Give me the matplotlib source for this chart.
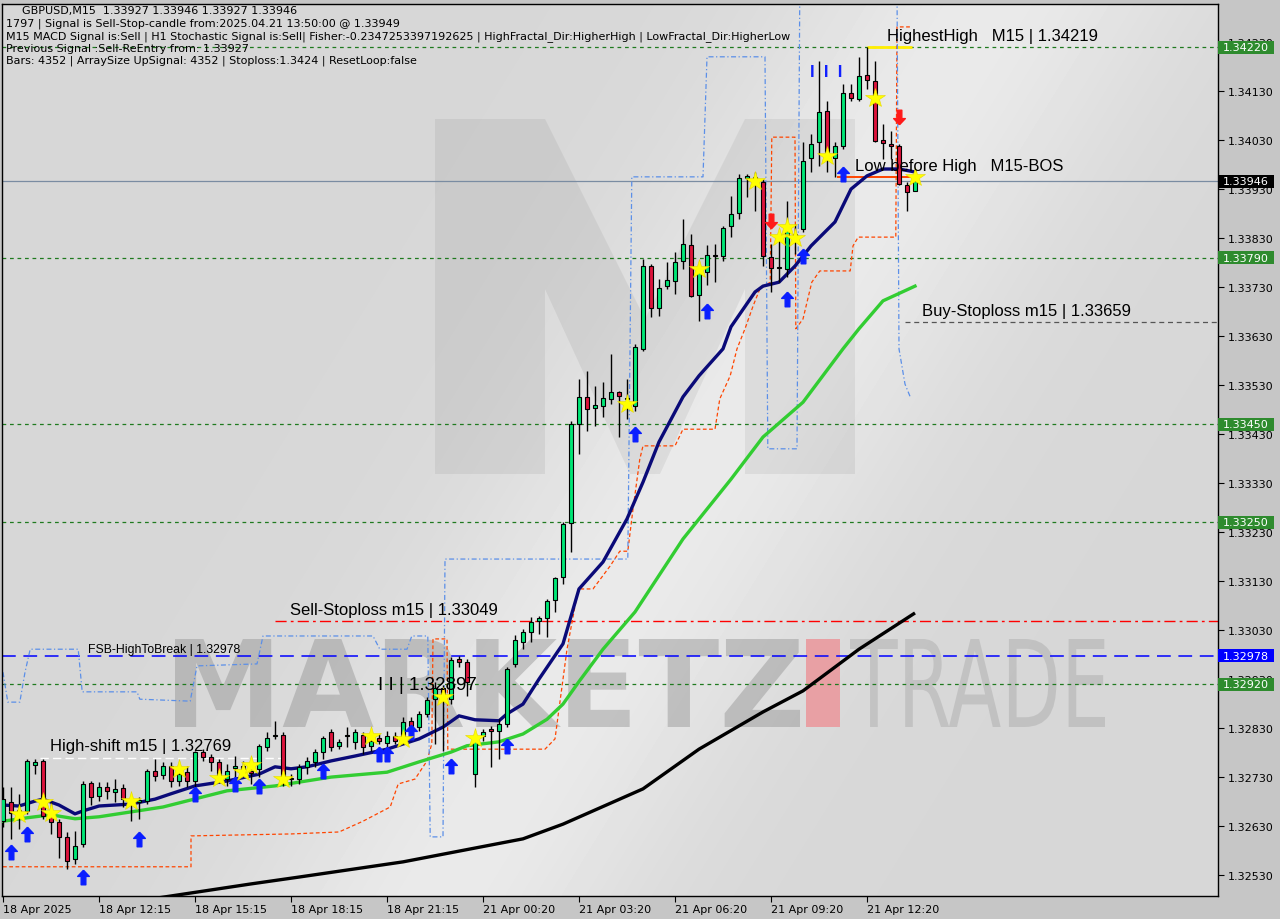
import numpy as np
import matplotlib
matplotlib.use("Agg")
import matplotlib.pyplot as plt
from matplotlib.path import Path
from matplotlib.patches import PathPatch, Rectangle, Polygon
from matplotlib.textpath import TextPath
from matplotlib.font_manager import FontProperties
from matplotlib.transforms import Affine2D, blended_transform_factory

# ---------------- data ----------------
opens = [1.32640, 1.32679, 1.32657, 1.32661, 1.32755, 1.32763, 1.32655, 1.32638, 1.32608, 1.32563,
         1.32594, 1.32718, 1.32691, 1.32710, 1.32700, 1.32708, 1.32685, 1.32679, 1.32681, 1.32742,
         1.32734, 1.32753, 1.32722, 1.32740, 1.32722, 1.32781, 1.32771, 1.32761, 1.32726, 1.32749,
         1.32753, 1.32742, 1.32747, 1.32791, 1.32814, 1.32816, 1.32726, 1.32726, 1.32751, 1.32761,
         1.32781, 1.32822, 1.32794, 1.32814, 1.32802, 1.32816, 1.32794, 1.32810, 1.32800, 1.32814,
         1.32808, 1.32845, 1.32832, 1.32859, 1.32889, 1.32912, 1.32889, 1.32971, 1.32965, 1.32736,
         1.32814, 1.32828, 1.32824, 1.32838, 1.32961, 1.33006, 1.33026, 1.33049, 1.33055, 1.33091,
         1.33138, 1.33249, 1.33451, 1.33506, 1.33483, 1.33487, 1.33502, 1.33516, 1.33502, 1.33487,
         1.33604, 1.33773, 1.33687, 1.33732, 1.33743, 1.33783, 1.33816, 1.33714, 1.33761, 1.33795,
         1.33793, 1.33855, 1.33881, 1.33953, 1.33955, 1.33945, 1.33791, 1.33769, 1.33767, 1.33828,
         1.33849, 1.33993, 1.34026, 1.34089, 1.33993, 1.34018, 1.34126, 1.34114, 1.34163, 1.34151,
         1.34030, 1.34022, 1.34018, 1.33938, 1.33927]
highs = [1.32710, 1.32710, 1.32696, 1.32767, 1.32767, 1.32767, 1.32679, 1.32645, 1.32618, 1.32620,
         1.32722, 1.32722, 1.32720, 1.32720, 1.32726, 1.32716, 1.32691, 1.32689, 1.32747, 1.32767,
         1.32761, 1.32761, 1.32742, 1.32753, 1.32783, 1.32787, 1.32777, 1.32767, 1.32757, 1.32773,
         1.32763, 1.32757, 1.32798, 1.32822, 1.32845, 1.32822, 1.32736, 1.32757, 1.32771, 1.32787,
         1.32814, 1.32828, 1.32808, 1.32832, 1.32828, 1.32822, 1.32808, 1.32818, 1.32824, 1.32822,
         1.32853, 1.32853, 1.32865, 1.32893, 1.32924, 1.32918, 1.32975, 1.32977, 1.32971, 1.32818,
         1.32828, 1.32834, 1.32849, 1.32955, 1.33020, 1.33032, 1.33057, 1.33059, 1.33093, 1.33138,
         1.33251, 1.33457, 1.33542, 1.33559, 1.33528, 1.33536, 1.33594, 1.33518, 1.33542, 1.33614,
         1.33787, 1.33777, 1.33747, 1.33781, 1.33802, 1.33869, 1.33838, 1.33777, 1.33816, 1.33818,
         1.33855, 1.33916, 1.33961, 1.33961, 1.33965, 1.33951, 1.33818, 1.33842, 1.33906, 1.33859,
         1.34026, 1.34042, 1.34191, 1.34110, 1.34026, 1.34144, 1.34144, 1.34200, 1.34219, 1.34191,
         1.34063, 1.34049, 1.34022, 1.33945, 1.33946]
lows = [1.32628, 1.32604, 1.32624, 1.32655, 1.32736, 1.32645, 1.32614, 1.32565, 1.32543, 1.32553,
        1.32587, 1.32673, 1.32681, 1.32685, 1.32679, 1.32669, 1.32640, 1.32645, 1.32675, 1.32722,
        1.32726, 1.32710, 1.32712, 1.32710, 1.32685, 1.32763, 1.32742, 1.32722, 1.32712, 1.32730,
        1.32732, 1.32716, 1.32730, 1.32783, 1.32808, 1.32712, 1.32712, 1.32716, 1.32736, 1.32751,
        1.32767, 1.32783, 1.32787, 1.32791, 1.32787, 1.32777, 1.32783, 1.32798, 1.32791, 1.32798,
        1.32798, 1.32828, 1.32824, 1.32853, 1.32798, 1.32783, 1.32879, 1.32955, 1.32896, 1.32710,
        1.32804, 1.32751, 1.32767, 1.32832, 1.32955, 1.32991, 1.33006, 1.33022, 1.33016, 1.33067,
        1.33124, 1.33189, 1.33389, 1.33436, 1.33447, 1.33465, 1.33491, 1.33424, 1.33461, 1.33477,
        1.33600, 1.33669, 1.33671, 1.33726, 1.33716, 1.33767, 1.33710, 1.33661, 1.33734, 1.33740,
        1.33783, 1.33832, 1.33869, 1.33914, 1.33885, 1.33773, 1.33720, 1.33740, 1.33751, 1.33798,
        1.33842, 1.33965, 1.33977, 1.33965, 1.33955, 1.34012, 1.34110, 1.34110, 1.34134, 1.34026,
        1.33991, 1.33991, 1.33938, 1.33885, 1.33927]
closes = [1.32685, 1.32657, 1.32663, 1.32763, 1.32761, 1.32651, 1.32638, 1.32608, 1.32559, 1.32589,
          1.32716, 1.32689, 1.32710, 1.32702, 1.32706, 1.32685, 1.32683, 1.32683, 1.32742, 1.32732,
          1.32753, 1.32722, 1.32736, 1.32722, 1.32781, 1.32771, 1.32761, 1.32732, 1.32742, 1.32753,
          1.32742, 1.32738, 1.32794, 1.32810, 1.32816, 1.32726, 1.32728, 1.32751, 1.32763, 1.32781,
          1.32810, 1.32791, 1.32802, 1.32816, 1.32822, 1.32791, 1.32804, 1.32804, 1.32814, 1.32804,
          1.32842, 1.32834, 1.32859, 1.32887, 1.32912, 1.32889, 1.32969, 1.32965, 1.32924, 1.32808,
          1.32822, 1.32824, 1.32838, 1.32951, 1.33010, 1.33026, 1.33047, 1.33055, 1.33089, 1.33136,
          1.33247, 1.33451, 1.33506, 1.33481, 1.33489, 1.33504, 1.33516, 1.33508, 1.33504, 1.33608,
          1.33773, 1.33687, 1.33728, 1.33745, 1.33781, 1.33818, 1.33712, 1.33761, 1.33795, 1.33793,
          1.33851, 1.33879, 1.33953, 1.33957, 1.33951, 1.33793, 1.33769, 1.33770, 1.33849, 1.33838,
          1.33987, 1.34022, 1.34087, 1.34006, 1.34018, 1.34126, 1.34116, 1.34161, 1.34153, 1.34028,
          1.34024, 1.34018, 1.33940, 1.33924, 1.33946]

# moving averages (bar index, price)
navy_x = [0, 2, 4, 5, 7, 9, 10, 12, 16, 19, 21, 24, 28, 32, 34, 36, 38, 41, 44, 48, 52, 55, 57, 59,
          62, 63, 65, 67, 70, 72, 75, 78, 80, 82, 85, 87, 90, 91, 94, 95, 97, 99, 101, 104, 106, 108,
          110, 112, 114]
navy_y = [1.32673, 1.32671, 1.32681, 1.32685, 1.32673, 1.32655, 1.32661, 1.32671, 1.32675, 1.32685,
          1.32696, 1.32712, 1.32722, 1.32736, 1.32751, 1.32747, 1.32751, 1.32763, 1.32773, 1.32787,
          1.32808, 1.32832, 1.32855, 1.32847, 1.32845, 1.32859, 1.32879, 1.32930, 1.33002, 1.33114,
          1.33169, 1.33257, 1.33332, 1.33414, 1.33506, 1.33549, 1.33604, 1.33649, 1.33720, 1.33732,
          1.33740, 1.33773, 1.33814, 1.33863, 1.33930, 1.33957, 1.33971, 1.33971, 1.33965]
green_x = [0, 3, 6, 9, 12, 16, 20, 28, 34, 41, 48, 52, 56, 58, 62, 65, 68, 70, 72, 75, 79, 85, 91,
           95, 100, 105, 107, 110, 114]
green_y = [1.32640, 1.32647, 1.32653, 1.32645, 1.32649, 1.32659, 1.32669, 1.32702, 1.32712, 1.32730,
           1.32740, 1.32761, 1.32781, 1.32794, 1.32802, 1.32818, 1.32848, 1.32879, 1.32925, 1.32991,
           1.33067, 1.33216, 1.33338, 1.33424, 1.33495, 1.33604, 1.33645, 1.33702, 1.33732]
black_x = [18, 31, 37, 50, 65, 70, 80, 87, 95, 100, 107, 114]
black_y = [1.32480, 1.32512, 1.32526, 1.32557, 1.32604, 1.32634, 1.32706, 1.32787, 1.32863, 1.32906,
           1.32991, 1.33065]

# trailing stop lines (bar index, price)
orange_x = [0, 23.5, 23.5, 36, 42, 45, 48.4, 49.4, 51.5, 53, 53.6, 53.75, 55.5, 55.6, 67.75, 69,
            70.5, 71.9, 73.75, 75.9, 77.1, 78.1, 78.75, 79.6, 80, 84, 85, 89, 89.6, 90.9, 91.75,
            92.75, 93.75, 94.6, 95.9, 96.1, 99, 99.1, 100, 101.1, 102.1, 105.9, 106.25, 106.9,
            111.6, 111.75, 113.6]
orange_y = [1.32547, 1.32547, 1.32610, 1.32614, 1.32618, 1.32640, 1.32669, 1.32716, 1.32726, 1.32763,
            1.32798, 1.33012, 1.33012, 1.32787, 1.32787, 1.32808, 1.32991, 1.33114, 1.33114, 1.33161,
            1.33191, 1.33191, 1.33277, 1.33379, 1.33406, 1.33406, 1.33440, 1.33440, 1.33502, 1.33549,
            1.33604, 1.33645, 1.33691, 1.33726, 1.33740, 1.34036, 1.34036, 1.33645, 1.33665, 1.33740,
            1.33763, 1.33763, 1.33814, 1.33832, 1.33832, 1.34261, 1.34261]
blue_x = [0, 0.6, 2.1, 2.75, 3.4, 9.4, 9.9, 16.75, 17.1, 23.4, 24.25, 31.75, 32.5, 46.25, 47.1, 50.5,
          51.1, 53.1, 53.4, 55, 55.25, 78.1, 78.6, 87.5, 88, 95.25, 95.6, 99.25, 99.6, 111.75, 112,
          112.75, 113.4]
blue_y = [1.32944, 1.32883, 1.32883, 1.32944, 1.32991, 1.32991, 1.32904, 1.32904, 1.32889, 1.32885,
          1.32957, 1.32961, 1.33018, 1.33018, 1.32991, 1.32991, 1.33018, 1.33018, 1.32608, 1.32608,
          1.33175, 1.33175, 1.33955, 1.33955, 1.34200, 1.34200, 1.33400, 1.33400, 1.34340, 1.34340,
          1.33604, 1.33532, 1.33506]

# signal markers (bar index, price)
star_x = [2, 5, 6, 16, 22, 27, 30, 31, 35, 46, 50, 55, 59, 78, 87, 94, 97, 98, 99, 103, 109, 114]
star_y = [1.32655, 1.32679, 1.32657, 1.32681, 1.32747, 1.32728, 1.32740, 1.32755, 1.32726, 1.32814,
          1.32808, 1.32893, 1.32810, 1.33491, 1.33767, 1.33947, 1.33832, 1.33853, 1.33830, 1.33998,
          1.34116, 1.33955]
up_x = [1, 3, 10, 17, 24, 29, 32, 40, 47, 48, 51, 56, 63, 79, 88, 98, 100, 105]
up_y = [1.32577, 1.32614, 1.32526, 1.32604, 1.32696, 1.32716, 1.32712, 1.32742, 1.32777, 1.32777,
        1.32822, 1.32753, 1.32794, 1.33430, 1.33681, 1.33706, 1.33793, 1.33961]
down_x = [96, 112]
down_y = [1.33865, 1.34077]

# levels
green_levels = [1.34220, 1.33790, 1.33450, 1.33250, 1.32920]
fsb_level = 1.32978
sell_sl = 1.33049
buy_sl = 1.33659
high_shift = 1.32769
highest_high = 1.34219
low_before_high = 1.33955
last_price = 1.33946

time_ticks = [0, 12, 24, 36, 48, 60, 72, 84, 96, 108]
time_labels = ["18 Apr 2025", "18 Apr 12:15", "18 Apr 15:15", "18 Apr 18:15", "18 Apr 21:15",
               "21 Apr 00:20", "21 Apr 03:20", "21 Apr 06:20", "21 Apr 09:20", "21 Apr 12:20"]
price_ticks = [1.32530, 1.32630, 1.32730, 1.32830, 1.32930, 1.33030, 1.33130, 1.33230, 1.33330,
               1.33430, 1.33530, 1.33630, 1.33730, 1.33830, 1.33930, 1.34030, 1.34130, 1.34230]

info_lines = [
    "GBPUSD,M15  1.33927 1.33946 1.33927 1.33946",
    "1797 | Signal is Sell-Stop-candle from:2025.04.21 13:50:00 @ 1.33949",
    "M15 MACD Signal is:Sell | H1 Stochastic Signal is:Sell| Fisher:-0.2347253397192625 | "
    "HighFractal_Dir:HigherHigh | LowFractal_Dir:HigherLow",
    "Previous Signal :Sell-ReEntry from: 1.33927",
    "Bars: 4352 | ArraySize UpSignal: 4352 | Stoploss:1.3424 | ResetLoop:false",
]

# ---------------- figure ----------------
W, H = 1280, 920
fig = plt.figure(figsize=(12.8, 9.2), dpi=100, facecolor="#c6c6c6")
ax = fig.add_axes([2 / W, (H - 897) / H, 1216 / W, 892 / H])
ax.set_facecolor("#d8d8d8")
xmin, xmax = -0.125, 151.875
ymin, ymax = 1.3248735, 1.3430776
pix = Affine2D().scale(1, -1).translate(0, H)   # pixel (top-left origin) -> display

# background light swoosh
gx = np.linspace(2, 1218, 300)
gy = np.linspace(5, 897, 220)
GX, GY = np.meshgrid(gx, gy)
p0, p1 = np.array([420.0, 930.0]), np.array([1010.0, -30.0])
dvec = (p1 - p0) / np.linalg.norm(p1 - p0)
dist = np.abs((GX - p0[0]) * dvec[1] - (GY - p0[1]) * dvec[0])
shade = 215 + 19 * np.exp(-(dist / 170.0) ** 2)
ax.imshow(shade, cmap="gray", vmin=0, vmax=255, extent=(0, 1, 0, 1), origin="upper",
          transform=ax.transAxes, aspect="auto", zorder=0, interpolation="bilinear")

# M logo watermark
m_pts = [(435, 475), (435, 120), (545, 120), (645, 320), (745, 120), (855, 120), (855, 475),
         (745, 475), (745, 290), (660, 475), (630, 475), (545, 290), (545, 475)]
ax.add_patch(Polygon(m_pts, closed=True, transform=pix, facecolor="#000000", alpha=0.06,
                     edgecolor="none", zorder=0.5))


def word_patch(text, box, color, weight, alpha):
    x0, y0, x1, y1 = box
    tp = TextPath((0, 0), text, size=100, prop=FontProperties(family="DejaVu Sans", weight=weight))
    ext = tp.get_extents()
    sx = (x1 - x0) / ext.width
    sy = (y1 - y0) / ext.height
    tr = Affine2D().translate(-ext.x0, -ext.y0).scale(sx, sy).translate(x0, H - y1)
    ax.add_patch(PathPatch(tp, transform=tr, facecolor=color, edgecolor="none", alpha=alpha,
                           zorder=0.6))


word_patch("MARKETZ", (175, 640, 800, 728), "#8c8c8c", "bold", 0.42)
ax.add_patch(Rectangle((806, 640), 34, 88, transform=pix, facecolor="#e8a0a4", edgecolor="none",
                       zorder=0.6))
word_patch("TRADE", (850, 640, 1105, 728), "#9a9a9a", "normal", 0.35)

# horizontal levels
for lv in green_levels:
    ax.axhline(lv, color="#1f7a1f", lw=0.9, dashes=(3, 3), zorder=2)
ax.axhline(fsb_level, color="#0000ff", lw=1.1, dashes=(9, 5), zorder=2)
ax.axhline(last_price, color="#7a8ca2", lw=0.9, zorder=2)
ax.hlines(sell_sl, 34, xmax, color="#ff0000", lw=1.0, linestyles=(0, (8, 3, 2, 3)), zorder=2)
ax.hlines(buy_sl, 112.75, xmax, color="#555555", lw=0.9, linestyles=(0, (4, 3)), zorder=2)
ax.hlines(high_shift, 4.6, 35, color="#ffffff", lw=1.0, linestyles=(0, (6, 3)), zorder=2)
ax.hlines(highest_high, 108, 113.6, color="#ffee00", lw=2.0, zorder=2)
ax.hlines(low_before_high, 104.2, 114.2, color="#ff4500", lw=1.4, zorder=2)

# trailing lines
ax.plot(orange_x, orange_y, color="#ff4500", lw=0.9, dashes=(3, 2), zorder=2.5)
ax.plot(blue_x, blue_y, color="#5b8fe8", lw=0.9, dashes=(4, 2, 1, 2), zorder=2.5)

# moving averages
ax.plot(black_x, black_y, color="#000000", lw=2.4, zorder=3, solid_capstyle="butt")
ax.plot(green_x, green_y, color="#32cd32", lw=2.4, zorder=3)
ax.plot(navy_x, navy_y, color="#0a0a78", lw=2.4, zorder=3)

# candles
o = np.array(opens)
c = np.array(closes)
hi = np.array(highs)
lo = np.array(lows)
idx = np.arange(len(o))
ax.vlines(idx, lo, hi, color="black", lw=1.0, zorder=4)
bull = c >= o
body_low = np.minimum(o, c)
body_h = np.maximum(np.abs(c - o), 0.000018)
ax.bar(idx, body_h, bottom=body_low, width=0.62,
       color=np.where(bull, "#00e676", "#dc143c"), edgecolor="black", linewidth=0.8, zorder=4.2)

# markers
up_arrow = Path([(0, 1), (-0.8, 0.15), (-0.32, 0.15), (-0.32, -1), (0.32, -1), (0.32, 0.15),
                 (0.8, 0.15), (0, 1)])
down_arrow = Path([(0, -1), (-0.8, -0.15), (-0.32, -0.15), (-0.32, 1), (0.32, 1), (0.32, -0.15),
                   (0.8, -0.15), (0, -1)])
ax.plot(up_x, up_y, linestyle="none", marker=up_arrow, markersize=10.5, color="#0a1eff", zorder=5)
ax.plot(down_x, down_y, linestyle="none", marker=down_arrow, markersize=10.5, color="#ff1a1a",
        zorder=5)
ax.plot(star_x, star_y, linestyle="none", marker="*", markersize=15, color="#ffff00",
        markeredgecolor="#e6d800", markeredgewidth=0.4, zorder=5.2)

# chart labels
lab = dict(family="Liberation Sans", color="black", va="center", ha="left", zorder=6)
ax.text(110.5, 1.34244, "HighestHigh   M15 | 1.34219", fontsize=12, **lab)
ax.text(106.5, 1.33979, "Low before High   M15-BOS", fontsize=12, **lab)
ax.text(114.9, 1.33683, "Buy-Stoploss m15 | 1.33659", fontsize=12, **lab)
ax.text(35.9, 1.33073, "Sell-Stoploss m15 | 1.33049", fontsize=12, **lab)
ax.text(5.9, 1.32794, "High-shift m15 | 1.32769", fontsize=12, **lab)
ax.text(46.9, 1.32920, "I I | 1.32897", fontsize=13.5, **lab)
ax.text(10.6, 1.32991, "FSB-HighToBreak | 1.32978", fontsize=8.8, **lab)
ax.text(100.9, 1.34171, "I  I  I", fontsize=12, color="#1020ff", va="center", ha="left",
        family="Liberation Sans", fontweight="bold", zorder=6)

# axes formatting
ax.set_xlim(xmin, xmax)
ax.set_ylim(ymin, ymax)
ax.yaxis.tick_right()
ax.set_yticks(price_ticks)
ax.set_yticklabels([f"{p:.5f}" for p in price_ticks])
ax.set_xticks(time_ticks)
ax.set_xticklabels(time_labels, ha="left")
ax.tick_params(axis="both", direction="out", length=4, width=0.8, colors="black", labelsize=8,
               pad=2)
ax.tick_params(axis="y", pad=3)
for s in ax.spines.values():
    s.set_color("black")
    s.set_linewidth(1.0)

# price boxes on the right scale
bt = blended_transform_factory(ax.transAxes, ax.transData)
dp = (ymax - ymin) / 892.0


def price_box(price, face):
    ax.add_patch(Rectangle((1.0, price - 6.5 * dp), 56 / 1216, 13 * dp, transform=bt,
                           facecolor=face, edgecolor="none", clip_on=False, zorder=10))
    ax.text(1.0 + 5 / 1216, price, f"{price:.5f}", transform=bt, color="white", fontsize=8,
            va="center", ha="left", clip_on=False, zorder=11)


for lv in green_levels:
    price_box(lv, "#2e8b2e")
price_box(fsb_level, "#0000ff")
price_box(last_price, "#000000")

# info text, top-left
info_y = [11, 24, 37, 49, 61]
for i, (line, yy) in enumerate(zip(info_lines, info_y)):
    fig.text((22 if i == 0 else 6) / W, (H - yy) / H, line, fontsize=8, color="black",
             va="center", ha="left", family="DejaVu Sans")

fig.savefig("out.png", dpi=100, facecolor=fig.get_facecolor())
